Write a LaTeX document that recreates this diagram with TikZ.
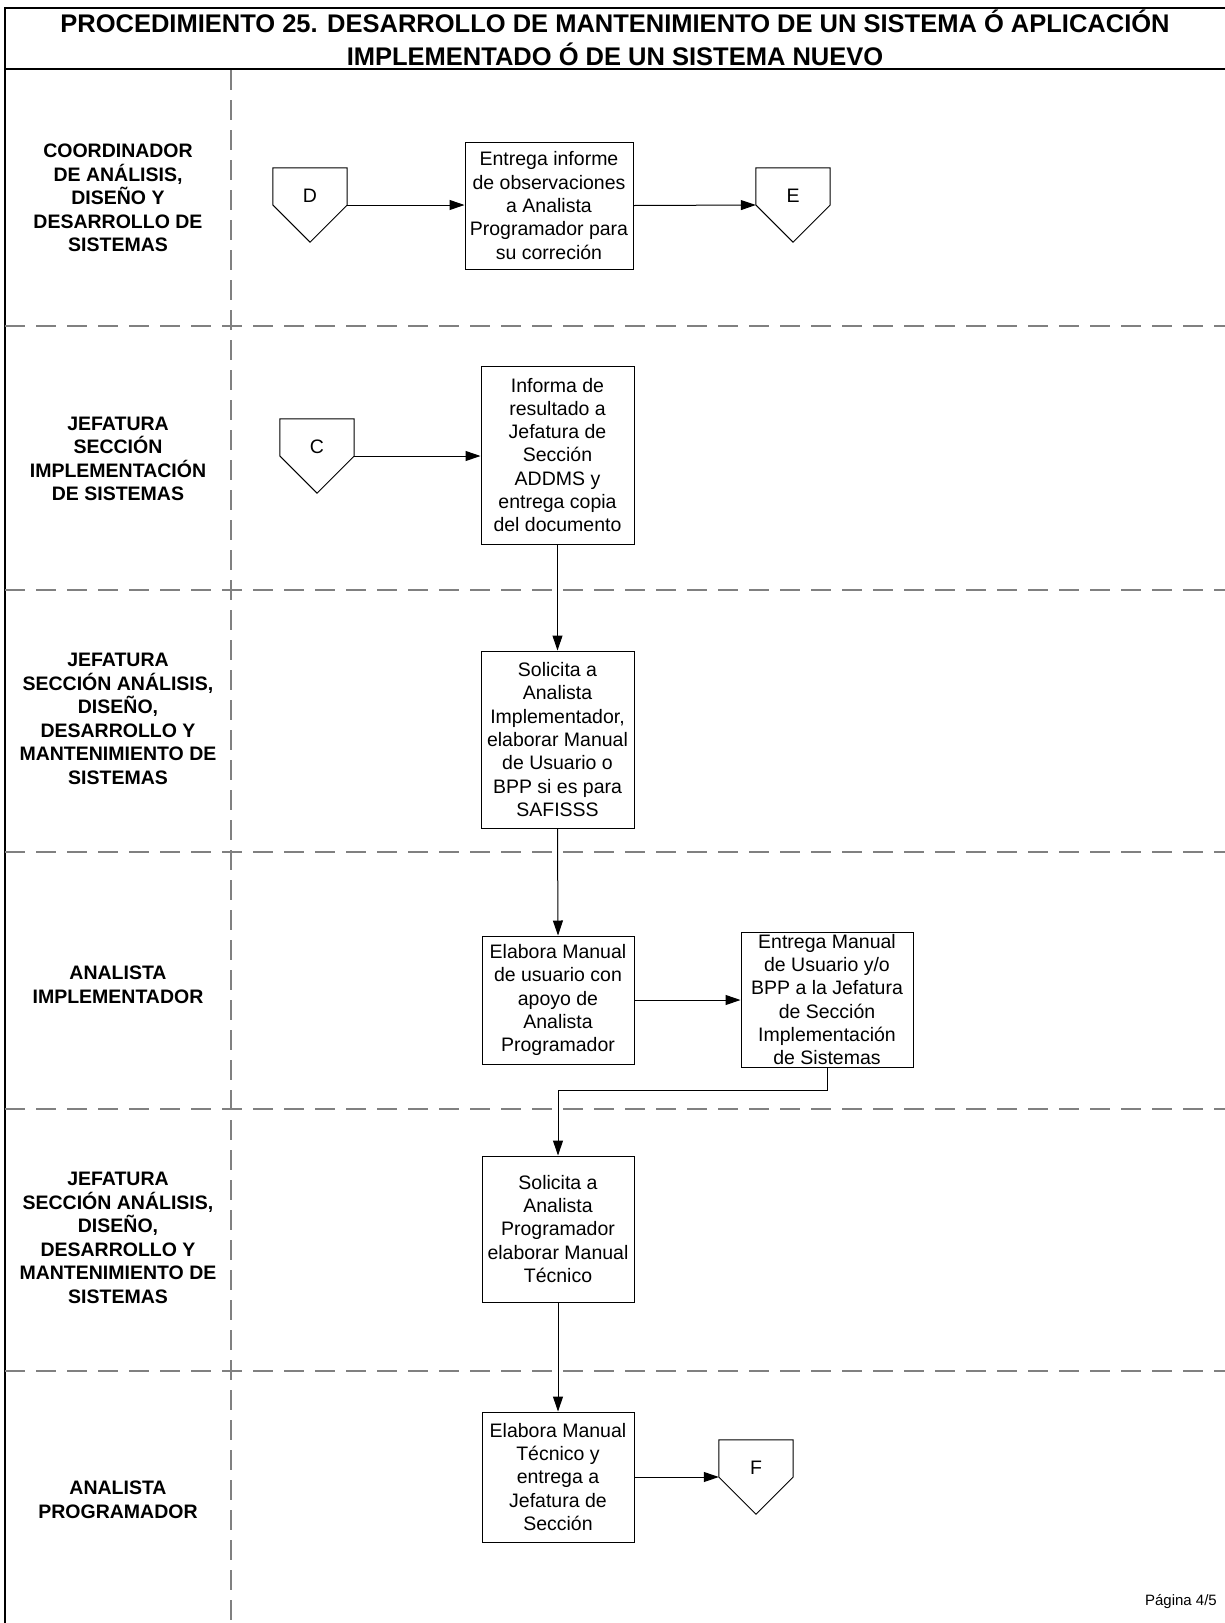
\documentclass[tikz,border=0pt]{standalone}
\usepackage{fontspec}
\setmainfont{Liberation Sans}
\usetikzlibrary{arrows.meta}
\definecolor{lanegray}{RGB}{128,128,128}
\tikzset{
  x=1pt, y=-1pt,
  frameline/.style={line width=2.2pt, black},
  laneline/.style={line width=2.4pt, lanegray, dash pattern=on 20pt off 11pt},
  vlaneline/.style={line width=2.4pt, lanegray, dash pattern=on 20pt off 10pt},
  lanelabel/.style={align=center, font=\fontsize{19.5}{23.5}\selectfont\bfseries, inner sep=0pt},
  procbox/.style={draw=black, line width=1pt, align=center, inner sep=0pt,
    font=\fontsize{19.5}{23.3}\selectfont},
  offpage/.style={minimum width=74pt, minimum height=74pt, inner sep=0pt},
  conn/.style={line width=1pt, -{Triangle[length=15pt,width=10pt]}},
  offlabel/.style={font=\fontsize{19.5}{23.3}\selectfont},
}
\begin{document}
\begin{tikzpicture}
\useasboundingbox (0,0) rectangle (1225,1623);
% frame
\draw[frameline] (5,1623) -- (5,8) -- (1225,8);
\draw[frameline] (5,69) -- (1225,69);
\node[font=\fontsize{25.5}{33}\selectfont\bfseries, align=center, inner sep=0pt] (title) at (615,38)
  {PROCEDIMIENTO 25. DESARROLLO DE MANTENIMIENTO DE UN SISTEMA Ó APLICACIÓN\\IMPLEMENTADO Ó DE UN SISTEMA NUEVO};
% lanes
\draw[vlaneline] (231,70) -- (231,1623);
\foreach \yy in {326,590,852,1109,1371} {
  \draw[laneline] (5,\yy) -- (1225,\yy);
}
\node[lanelabel] (l1) at (118,198) {COORDINADOR\\DE ANÁLISIS,\\DISEÑO Y\\DESARROLLO DE\\SISTEMAS};
\node[lanelabel] (l2) at (118,459) {JEFATURA\\SECCIÓN\\IMPLEMENTACIÓN\\DE SISTEMAS};
\node[lanelabel] (l3) at (118,719) {JEFATURA\\SECCIÓN ANÁLISIS,\\DISEÑO,\\DESARROLLO Y\\MANTENIMIENTO DE\\SISTEMAS};
\node[lanelabel] (l4) at (118,985) {ANALISTA\\IMPLEMENTADOR};
\node[lanelabel] (l5) at (118,1238) {JEFATURA\\SECCIÓN ANÁLISIS,\\DISEÑO,\\DESARROLLO Y\\MANTENIMIENTO DE\\SISTEMAS};
\node[lanelabel] (l6) at (118,1500) {ANALISTA\\PROGRAMADOR};
% off-page connectors
\node[offpage, label={[offlabel,yshift=9pt]center:D}] (D) at (310,205) {};
\node[offpage, label={[offlabel,yshift=9pt]center:E}] (E) at (793,205) {};
\node[offpage, label={[offlabel,yshift=9pt]center:C}] (C) at (317,456) {};
\node[offpage, label={[offlabel,yshift=9pt]center:F}] (F) at (756,1477) {};
\foreach \n in {D,E,C,F} {
  \draw[line width=1pt] (\n.north west) -- (\n.north east) -- (\n.east) -- (\n.south) -- (\n.west) -- cycle;
}
% process boxes
\node[procbox, minimum width=168pt, minimum height=127pt] (b1) at (549,205.5)
  {Entrega informe\\de observaciones\\a Analista\\Programador para\\su correción};
\node[procbox, minimum width=153pt, minimum height=178pt] (b2) at (557.5,455)
  {Informa de\\resultado a\\Jefatura de\\Sección\\ADDMS y\\entrega copia\\del documento};
\node[procbox, minimum width=153pt, minimum height=177pt] (b3) at (557.5,739.5)
  {Solicita a\\Analista\\Implementador,\\elaborar Manual\\de Usuario o\\BPP si es para\\SAFISSS};
\node[procbox, minimum width=152pt, minimum height=128pt] (b4) at (558,1000)
  {Elabora Manual\\de usuario con\\apoyo de\\Analista\\Programador};
\node[procbox, minimum width=172pt, minimum height=135pt] (b5) at (827,999.5)
  {Entrega Manual\\de Usuario y/o\\BPP a la Jefatura\\de Sección\\Implementación\\de Sistemas};
\node[procbox, minimum width=152pt, minimum height=146pt] (b6) at (558,1229)
  {Solicita a\\Analista\\Programador\\elaborar Manual\\Técnico};
\node[procbox, minimum width=152pt, minimum height=130pt] (b7) at (558,1477)
  {Elabora Manual\\Técnico y\\entrega a\\Jefatura de\\Sección};
% connectors
\draw[conn] (D.east) -- (D.east -| b1.west);
\draw[conn] (b1.east) -- (E.west);
\draw[conn] (C.east) -- (C.east -| b2.west);
\draw[conn] (b2.south) -- (b3.north);
\draw[conn] (b3.south) -- (b4.north);
\draw[conn] (b4.east) -- (b4.east -| b5.west);
\draw[conn] (b5.south) -- ++(0,23) -| (b6.north);
\draw[conn] (b6.south) -- (b7.north);
\draw[conn] (b7.east) -- (F.west);
% page number
\node[font=\fontsize{15}{18}\selectfont, anchor=east, inner sep=0pt] (page) at (1217,1602) {Página 4/5};
\end{tikzpicture}
\end{document}
